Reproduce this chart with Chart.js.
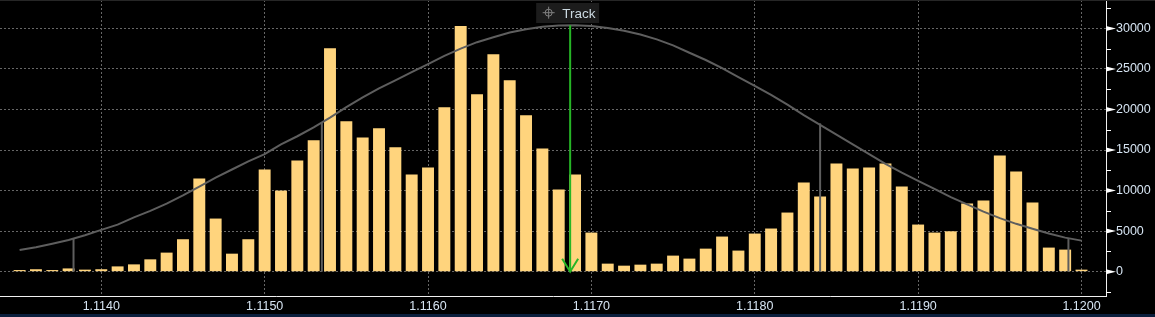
<!DOCTYPE html>
<html>
<head>
<meta charset="utf-8">
<script src="https://cdn.jsdelivr.net/npm/chart.js@4.4.0/dist/chart.umd.min.js"></script>
<style>
  html, body { margin: 0; padding: 0; background: #000; }
  #wrap { position: relative; width: 1155px; height: 314px; }
  #strip { width: 1155px; height: 3px; background: #0a1e3c; }
</style>
</head>
<body>
<div id="wrap"><canvas id="chart"></canvas></div>
<div id="strip"></div>
<script>
// price levels (one bar each)
const prices = [
  1.1135, 1.1136, 1.1137, 1.1138, 1.1139, 1.1140, 1.1141, 1.1142, 1.1143, 1.1144,
  1.1145, 1.1146, 1.1147, 1.1148, 1.1149, 1.1150, 1.1151, 1.1152, 1.1153, 1.1154,
  1.1155, 1.1156, 1.1157, 1.1158, 1.1159, 1.1160, 1.1161, 1.1162, 1.1163, 1.1164,
  1.1165, 1.1166, 1.1167, 1.1168, 1.1169, 1.1170, 1.1171, 1.1172, 1.1173, 1.1174,
  1.1175, 1.1176, 1.1177, 1.1178, 1.1179, 1.1180, 1.1181, 1.1182, 1.1183, 1.1184,
  1.1185, 1.1186, 1.1187, 1.1188, 1.1189, 1.1190, 1.1191, 1.1192, 1.1193, 1.1194,
  1.1195, 1.1196, 1.1197, 1.1198, 1.1199, 1.1200
];

// volume traded at each price
const volumes = [
  200, 300, 200, 400, 250, 300, 650, 900, 1520, 2350,
  4000, 11500, 6550, 2220, 4000, 12600, 10000, 13700, 16200, 27560,
  18540, 16560, 17680, 15330, 11990, 12860, 20270, 30280, 21880, 26820,
  23610, 19280, 15200, 10140, 11990, 4820, 990, 740, 865, 990,
  1980, 1610, 2840, 4330, 2600, 4700, 5320, 7290, 11000, 9270,
  13350, 12730, 12860, 13350, 10510, 5810, 4820, 4980, 8400, 8780,
  14340, 12360, 8530, 2970, 2720, 250
];

// grey fitted curve, read at each price level
const curve = [
  2680, 3000, 3450, 3900, 4500, 5150, 5800, 6700, 7500, 8400,
  9400, 10500, 11600, 12600, 13600, 14500, 15700, 16700, 17800, 19000,
  20300, 21500, 22600, 23600, 24600, 25600, 26600, 27500, 28300, 28900,
  29500, 29900, 30200, 30350, 30400, 30300, 30050, 29700, 29250, 28650,
  27900, 27000, 26100, 25100, 24000, 22900, 21800, 20600, 19300, 18100,
  16900, 15700, 14500, 13300, 12200, 11200, 10200, 9200, 8300, 7400,
  6600, 5900, 5300, 4700, 4200, 3830
];

// vertical drop lines under the curve
const bandPrices = [1.11383, 1.11535, 1.11840, 1.11992];
const bandHeights = [4080, 18380, 18290, 4120];

// green "Track" marker
const trackPrice = 1.11687;
const trackTop = 30400;

const xTicks = [1.1140, 1.1150, 1.1160, 1.1170, 1.1180, 1.1190, 1.1200];
const yTicks = [0, 5000, 10000, 15000, 20000, 25000, 30000];
const yMinorTicks = [-2500, 2500, 7500, 12500, 17500, 22500, 27500, 32500];

const GREY = '#5e5e5e';
const GREEN = '#26b526';
const LABEL = '#d6e4f2';
const GRID = '#666666';

const decor = {
  id: 'decor',
  afterDraw(chart) {
    const { ctx, chartArea: a, scales: { x, y } } = chart;
    ctx.save();

    // faint line along the very top
    ctx.fillStyle = '#262626';
    ctx.fillRect(0, 0, chart.width, 1);

    // major tick pointers on the right axis
    ctx.fillStyle = '#ffffff';
    yTicks.forEach(v => {
      const py = y.getPixelForValue(v);
      ctx.beginPath();
      ctx.moveTo(a.right, py - 2.5);
      ctx.lineTo(a.right + 10, py);
      ctx.lineTo(a.right, py + 2.5);
      ctx.closePath();
      ctx.fill();
    });
    // minor ticks
    ctx.strokeStyle = '#ffffff';
    ctx.lineWidth = 1;
    yMinorTicks.forEach(v => {
      const py = Math.round(y.getPixelForValue(v)) + 0.5;
      ctx.beginPath();
      ctx.moveTo(a.right, py);
      ctx.lineTo(a.right + 5, py);
      ctx.stroke();
    });

    // arrow head at the bottom of the track line
    const gx = x.getPixelForValue(trackPrice);
    const gy = y.getPixelForValue(0);
    ctx.strokeStyle = GREEN;
    ctx.lineWidth = 2;
    ctx.beginPath();
    ctx.moveTo(gx - 8, gy - 13);
    ctx.lineTo(gx, gy);
    ctx.lineTo(gx + 8, gy - 13);
    ctx.stroke();

    // "Track" label box
    const bx = gx - 34, by = 3;
    ctx.fillStyle = '#1c1c1c';
    ctx.fillRect(bx, by, 63, 20);
    const cx = bx + 12.5, cy = by + 9.7;
    ctx.strokeStyle = '#808080';
    ctx.lineWidth = 1;
    ctx.beginPath();
    ctx.arc(cx, cy, 3.5, 0, Math.PI * 2);
    ctx.moveTo(cx - 6, cy); ctx.lineTo(cx + 6, cy);
    ctx.moveTo(cx, cy - 6); ctx.lineTo(cx, cy + 6);
    ctx.stroke();
    ctx.fillStyle = '#ccdae2';
    ctx.font = '13.5px "Liberation Sans", Arial, sans-serif';
    ctx.textBaseline = 'alphabetic';
    ctx.textAlign = 'left';
    ctx.fillText('Track', bx + 26, by + 14.5);

    ctx.restore();
  }
};

const tickFont = { family: '"Liberation Sans", Arial, sans-serif', size: 12.5 };

const datasets = [
  {
    type: 'line',
    data: [{ x: trackPrice, y: trackTop }, { x: trackPrice, y: 0 }],
    borderColor: GREEN,
    borderWidth: 2,
    pointRadius: 0,
    order: 0
  },
  {
    type: 'line',
    data: prices.map((p, i) => ({ x: p, y: curve[i] })),
    borderColor: GREY,
    borderWidth: 2,
    pointRadius: 0,
    tension: 0,
    order: 1
  },
  ...bandPrices.map((p, i) => ({
    type: 'line',
    data: [{ x: p, y: 0 }, { x: p, y: bandHeights[i] }],
    borderColor: GREY,
    borderWidth: 2,
    pointRadius: 0,
    order: 2
  })),
  {
    type: 'bar',
    data: prices.map((p, i) => ({ x: p, y: volumes[i] })),
    backgroundColor: '#ffd47d',
    borderWidth: 0,
    categoryPercentage: 1,
    barPercentage: 0.73,
    order: 5
  }
];

new Chart(document.getElementById('chart'), {
  type: 'bar',
  data: { datasets: datasets },
  options: {
    responsive: true,
    maintainAspectRatio: false,
    animation: false,
    events: [],
    layout: { padding: 0 },
    plugins: {
      legend: { display: false },
      tooltip: { enabled: false }
    },
    scales: {
      x: {
        type: 'linear',
        offset: false,
        min: 1.11338,
        max: 1.12015,
        afterBuildTicks: s => { s.ticks = xTicks.map(v => ({ value: v })); },
        afterFit: s => { s.height = 18; s.paddingLeft = 0; s.paddingRight = 0; },
        ticks: {
          color: LABEL,
          font: tickFont,
          padding: 3,
          maxRotation: 0,
          autoSkip: false,
          callback: v => Number(v).toFixed(4)
        },
        grid: { color: GRID, drawTicks: false, offset: false },
        border: { color: '#f0f0f0', width: 1, dash: [2, 2] }
      },
      y: {
        position: 'right',
        min: -3000,
        max: 33500,
        afterBuildTicks: s => { s.ticks = yTicks.map(v => ({ value: v })); },
        afterFit: s => { s.width = 49; s.paddingTop = 0; s.paddingBottom = 0; },
        ticks: {
          color: LABEL,
          font: tickFont,
          padding: 10,
          callback: v => String(v)
        },
        grid: { color: GRID, drawTicks: false },
        border: { color: '#f0f0f0', width: 1, dash: [2, 2] }
      }
    }
  },
  plugins: [decor]
});
</script>
</body>
</html>
